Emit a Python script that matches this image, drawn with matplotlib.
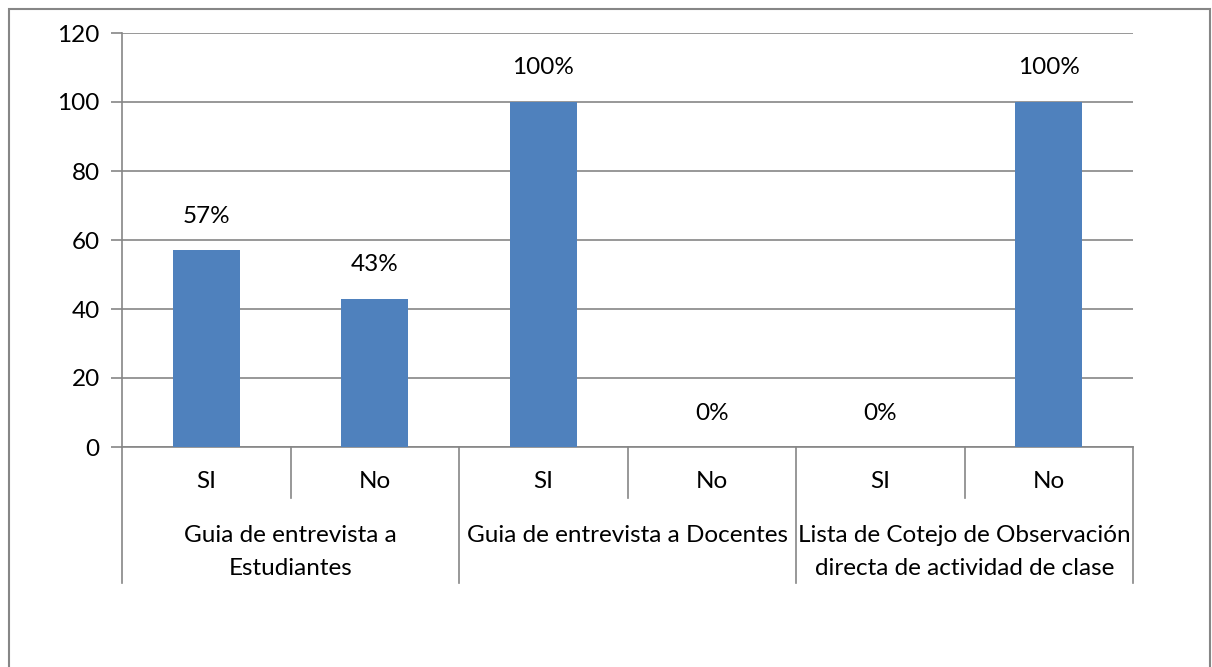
import matplotlib
matplotlib.use("Agg")
import matplotlib.pyplot as plt
from matplotlib.patches import Rectangle

groups = ["Guia de entrevista a\nEstudiantes", "Guia de entrevista a Docentes",
          "Lista de Cotejo de Observación\ndirecta de actividad de clase"]
subcats = ["SI", "No", "SI", "No", "SI", "No"]
values = [57, 43, 100, 0, 0, 100]
labels = ["57%", "43%", "100%", "0%", "0%", "100%"]
yticks = [0, 20, 40, 60, 80, 100, 120]

plt.rcParams['font.family'] = ['Lato', 'DejaVu Sans']
W, H = 1212, 667
FS = 17.5
fig = plt.figure(figsize=(W / 100, H / 100), dpi=100)
gray = "#868686"

# outer frame (bottom edge falls outside the image)
fig.patches.append(Rectangle((8.5 / W, -5 / H), 1201 / W, (H - 8.5 + 5) / H, transform=fig.transFigure,
                             fill=False, edgecolor=gray, linewidth=1.5))

x0, x1, ytop, ybot = 122, 1133, 33, 447
ax = fig.add_axes([x0 / W, 1 - ybot / H, (x1 - x0) / W, (ybot - ytop) / H])
n = len(values)
xs = list(range(n))
ax.bar(xs, values, width=0.4, color="#4F81BD", zorder=3)
ax.set_xlim(-0.5, n - 0.5)
ax.set_ylim(0, 120)
ax.set_yticks(yticks)
ax.yaxis.grid(True, color=gray, linewidth=1.2, zorder=0)
for s in ["top", "right"]:
    ax.spines[s].set_visible(False)
ax.spines["left"].set_color(gray)
ax.spines["bottom"].set_color(gray)
ax.spines["left"].set_linewidth(1.2)
ax.spines["bottom"].set_linewidth(1.2)
ax.tick_params(axis="y", length=8, color=gray, width=1.2, labelsize=FS, pad=8)
ax.set_xticks([])

for x, v, lab in zip(xs, values, labels):
    ax.annotate(lab, (x, v), xytext=(0, 34), textcoords="offset pixels",
                ha="center", va="center", fontsize=FS)

# multi-level category axis
trans = ax.get_xaxis_transform()
def ypix(p):
    return -(p - ybot) / (ybot - ytop)

for i, s in enumerate(subcats):
    ax.text(i, ypix(482), s, transform=trans, ha="center", va="center", fontsize=FS, clip_on=False)
for b in [0.5, 2.5, 4.5]:
    ax.plot([b, b], [0, ypix(498)], transform=trans, color=gray, lw=1.2, clip_on=False)
for b in [-0.5, 1.5, 3.5, 5.5]:
    ax.plot([b, b], [0, ypix(583)], transform=trans, color=gray, lw=1.2, clip_on=False)
for g, name in enumerate(groups):
    ax.text(2 * g + 0.5, ypix(525), name, transform=trans, ha="center", va="top",
            fontsize=FS, linespacing=1.7, clip_on=False)

fig.savefig("out.png", dpi=100)
